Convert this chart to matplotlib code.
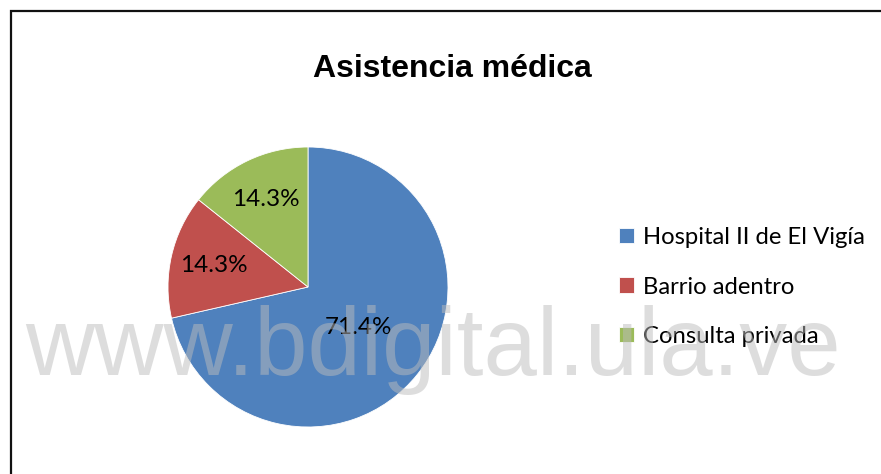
import matplotlib
matplotlib.use("Agg")
import matplotlib.pyplot as plt
import numpy as np
from matplotlib.patches import Rectangle

# data
categories = ["Hospital II de El Vigía", "Barrio adentro", "Consulta privada"]
counts = [5, 1, 1]
colors = ["#4F81BD", "#C0504D", "#9BBB59"]

W, H = 881, 474
fig = plt.figure(figsize=(W / 100, H / 100), dpi=100)
fig.patch.set_facecolor("white")

# pie axes: centre (308, 287), radius 140 px
cx, cy, r = 308, 287, 140
ax = fig.add_axes([(cx - r) / W, (H - cy - r) / H, 2 * r / W, 2 * r / H])
wedges, texts, autotexts = ax.pie(
    counts, colors=colors, startangle=90, counterclock=False,
    autopct="%.1f%%", pctdistance=0.69,
    wedgeprops=dict(edgecolor="white", linewidth=0.6),
    textprops=dict(family="Lato", fontsize=17.5, color="black"),
)
# Excel puts the big slice's label closer to the centre
w = wedges[0]
mid = np.deg2rad((w.theta1 + w.theta2) / 2)
autotexts[0].set_position((0.46 * np.cos(mid), 0.46 * np.sin(mid)))
ax.set_xlim(-1, 1)
ax.set_ylim(-1, 1)
ax.set_aspect("equal")
ax.axis("off")

fig.text(452 / W, 1 - 77 / H, "Asistencia médica", ha="center", va="baseline",
         family="Liberation Sans", fontweight="bold", fontsize=23)

fig.legend(wedges, categories, loc="center left",
           bbox_to_anchor=(619 / W, 1 - 287 / H), frameon=False,
           prop=dict(family="Lato", size=17.2), borderpad=0, borderaxespad=0,
           handlelength=0.62, handleheight=0.62, handletextpad=0.38,
           labelspacing=1.2)

# frame (only top and left edges fall inside the picture)
fig.patches.append(Rectangle((10.5 / W, -0.1), 1.2, 1.1 - 11.5 / H,
                             transform=fig.transFigure, fill=False,
                             edgecolor="#111111", linewidth=1.6))

# watermark
fig.text(25 / W, 1 - 375 / H, "www.bdigital.ula.ve", ha="left", va="baseline",
         family="Liberation Sans", fontsize=69, color="#bcbcbc", alpha=0.5,
         zorder=10)

fig.savefig("out.png", dpi=100)
